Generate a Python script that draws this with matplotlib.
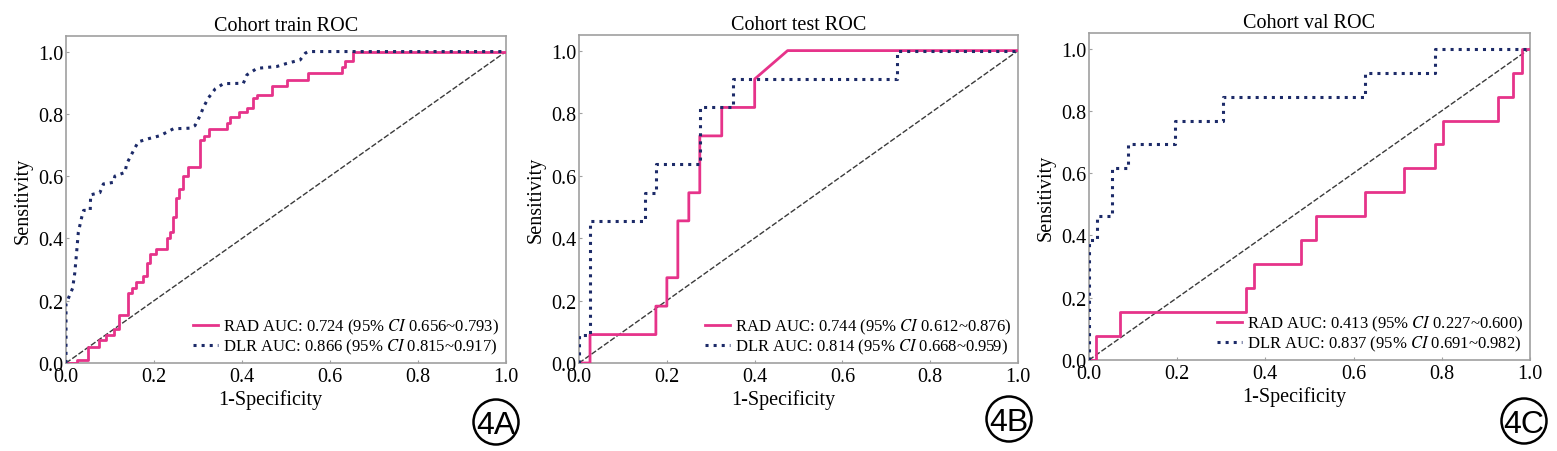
import matplotlib
matplotlib.use("Agg")
import matplotlib.pyplot as plt
from matplotlib.patches import Ellipse

# datos leidos de la figura
# cohorte train
fpr_train_rad = [0, 0.025, 0.025, 0.05, 0.05, 0.075, 0.075, 0.09, 0.09, 0.11, 0.11,
                 0.12, 0.12, 0.142, 0.142, 0.15, 0.15, 0.16, 0.16, 0.175, 0.175,
                 0.185, 0.185, 0.19, 0.19, 0.205, 0.205, 0.23, 0.23, 0.237, 0.237,
                 0.243, 0.243, 0.25, 0.25, 0.256, 0.256, 0.267, 0.267, 0.278, 0.278,
                 0.305, 0.305, 0.313, 0.313, 0.324, 0.324, 0.366, 0.366, 0.373, 0.373,
                 0.392, 0.392, 0.411, 0.411, 0.426, 0.426, 0.434, 0.434, 0.468, 0.468,
                 0.502, 0.502, 0.551, 0.551, 0.627, 0.627, 0.634, 0.634, 0.652, 0.652, 1.0]
tpr_train_rad = [0, 0, 0.01, 0.01, 0.05, 0.05, 0.075, 0.075, 0.09, 0.09, 0.11, 0.11,
                 0.155, 0.155, 0.225, 0.225, 0.24, 0.24, 0.26, 0.26, 0.28, 0.28,
                 0.32, 0.32, 0.35, 0.35, 0.365, 0.365, 0.40, 0.40, 0.42, 0.42,
                 0.47, 0.47, 0.53, 0.53, 0.56, 0.56, 0.60, 0.60, 0.63, 0.63,
                 0.715, 0.715, 0.73, 0.73, 0.75, 0.75, 0.77, 0.77, 0.79, 0.79,
                 0.806, 0.806, 0.82, 0.82, 0.85, 0.85, 0.86, 0.86, 0.89, 0.89,
                 0.91, 0.91, 0.93, 0.93, 0.95, 0.95, 0.97, 0.97, 1.0, 1.0]
fpr_train_dlr = [0, 0, 0.015, 0.02, 0.024, 0.028, 0.036, 0.04, 0.055, 0.056, 0.077,
                 0.085, 0.108, 0.111, 0.134, 0.138, 0.149, 0.164, 0.187, 0.214, 0.244,
                 0.282, 0.293, 0.305, 0.312, 0.323, 0.339, 0.358, 0.403, 0.411, 0.434,
                 0.479, 0.502, 0.532, 0.544, 0.551, 1.0]
tpr_train_dlr = [0, 0.19, 0.24, 0.29, 0.354, 0.42, 0.47, 0.49, 0.49, 0.54, 0.547,
                 0.575, 0.58, 0.60, 0.612, 0.64, 0.67, 0.71, 0.72, 0.73, 0.752,
                 0.754, 0.762, 0.795, 0.82, 0.85, 0.88, 0.897, 0.898, 0.925, 0.946,
                 0.952, 0.962, 0.973, 0.995, 1.0, 1.0]

# cohorte test
fpr_test_rad = [0, 0.025, 0.025, 0.175, 0.175, 0.2, 0.2, 0.225, 0.225, 0.25, 0.25,
                0.275, 0.275, 0.325, 0.325, 0.4, 0.4, 0.475, 1.0]
tpr_test_rad = [0, 0, 0.091, 0.091, 0.182, 0.182, 0.273, 0.273, 0.455, 0.455, 0.545,
                0.545, 0.727, 0.727, 0.818, 0.818, 0.909, 1.0, 1.0]
fpr_test_dlr = [0, 0, 0.025, 0.025, 0.15, 0.15, 0.175, 0.175, 0.275, 0.275, 0.35,
                0.35, 0.725, 0.725, 1.0]
tpr_test_dlr = [0, 0.091, 0.091, 0.455, 0.455, 0.545, 0.545, 0.636, 0.636, 0.818,
                0.818, 0.909, 0.909, 1.0, 1.0]

# cohorte val
fpr_val_rad = [0, 0.017, 0.017, 0.07, 0.07, 0.357, 0.357, 0.374, 0.374, 0.481, 0.481,
               0.515, 0.515, 0.626, 0.626, 0.714, 0.714, 0.785, 0.785, 0.802, 0.802,
               0.928, 0.928, 0.962, 0.962, 0.981, 0.981, 1.0]
tpr_val_rad = [0, 0, 0.077, 0.077, 0.154, 0.154, 0.231, 0.231, 0.308, 0.308, 0.385,
               0.385, 0.462, 0.462, 0.538, 0.538, 0.615, 0.615, 0.692, 0.692, 0.769,
               0.769, 0.846, 0.846, 0.923, 0.923, 1.0, 1.0]
fpr_val_dlr = [0, 0, 0.018, 0.018, 0.053, 0.053, 0.088, 0.088, 0.196, 0.196, 0.303,
               0.303, 0.626, 0.626, 0.785, 0.785, 1.0]
tpr_val_dlr = [0, 0.385, 0.385, 0.462, 0.462, 0.615, 0.615, 0.692, 0.692, 0.769,
               0.769, 0.846, 0.846, 0.923, 0.923, 1.0, 1.0]

titulos = ["Cohort train ROC", "Cohort test ROC", "Cohort val ROC"]
etiquetas_rad = ["RAD AUC: 0.724 (95% $\\mathit{CI}$ 0.656~0.793)",
                 "RAD AUC: 0.744 (95% $\\mathit{CI}$ 0.612~0.876)",
                 "RAD AUC: 0.413 (95% $\\mathit{CI}$ 0.227~0.600)"]
etiquetas_dlr = ["DLR AUC: 0.866 (95% $\\mathit{CI}$ 0.815~0.917)",
                 "DLR AUC: 0.814 (95% $\\mathit{CI}$ 0.668~0.959)",
                 "DLR AUC: 0.837 (95% $\\mathit{CI}$ 0.691~0.982)"]
paneles = ["4A", "4B", "4C"]
ticks = [0.0, 0.2, 0.4, 0.6, 0.8, 1.0]

curvas = [(fpr_train_rad, tpr_train_rad, fpr_train_dlr, tpr_train_dlr),
          (fpr_test_rad, tpr_test_rad, fpr_test_dlr, tpr_test_dlr),
          (fpr_val_rad, tpr_val_rad, fpr_val_dlr, tpr_val_dlr)]

# estilo general
plt.rcParams['font.family'] = ['Liberation Serif', 'DejaVu Serif']
plt.rcParams['mathtext.fontset'] = 'stix'

rosa = '#E6338A'
azul = '#1C2A68'
gris = '#A0A0A0'

fig = plt.figure(figsize=(15.57, 4.52), dpi=100)

# posiciones de los ejes (fraccion de figura)
posiciones = [[0.0424, 0.1947, 0.2826, 0.7235],
              [0.3719, 0.1947, 0.2820, 0.7257],
              [0.6994, 0.2013, 0.2832, 0.7235]]
# centros de los circulos con la etiqueta del panel (pixeles)
centros = [(496, 423), (1009, 420), (1524, 422)]

for i in range(3):
    ax = fig.add_axes(posiciones[i])
    fr, tr, fd, td = curvas[i]
    # curva RAD
    ax.plot(fr, tr, color=rosa, lw=2.0, label=etiquetas_rad[i], zorder=3)
    # curva DLR
    ax.plot(fd, td, color=azul, lw=2.2, linestyle=':', label=etiquetas_dlr[i],
            zorder=4)
    # diagonal
    ax.plot([0, 1], [0, 1], color='#3A3A3A', lw=1.0, linestyle=(0, (4, 1.5)),
            zorder=2)

    ax.set_xlim(0, 1)
    ax.set_ylim(0, 1.05)
    ax.set_xticks(ticks)
    ax.set_yticks(ticks)
    ax.set_xticklabels(["%.1f" % t for t in ticks])
    ax.set_yticklabels(["%.1f" % t for t in ticks])
    ax.tick_params(direction='in', length=2, width=0.8, color=gris,
                   labelsize=14.5, pad=3)
    ax.tick_params(axis='y', pad=2)
    for s in ax.spines.values():
        s.set_color(gris)
        s.set_linewidth(1.2)

    # titulo y etiquetas
    ax.set_title(titulos[i], fontsize=14.5, pad=4)
    ax.set_xlabel("1-Specificity", fontsize=14.5, labelpad=0)
    ax.xaxis.set_label_coords(0.465, -0.08)
    ax.set_ylabel("Sensitivity", fontsize=14.5, labelpad=4)

    # leyenda
    ax.legend(loc='lower right', frameon=False, fontsize=12,
              handlelength=1.5, handletextpad=0.3, labelspacing=0.05,
              borderaxespad=0.2, borderpad=0.2)

    # circulo con la etiqueta del panel
    cx, cy = centros[i]
    circ = Ellipse((cx / 1557, 1 - cy / 452), 45 / 1557, 45 / 452,
                   transform=fig.transFigure, fill=False, edgecolor='black',
                   lw=1.8)
    fig.patches.append(circ)
    fig.text(cx / 1557, 1 - cy / 452, paneles[i], ha='center',
             va='center_baseline', fontsize=23,
             family=['Liberation Sans', 'DejaVu Sans'])

fig.savefig("out.png", dpi=100)
